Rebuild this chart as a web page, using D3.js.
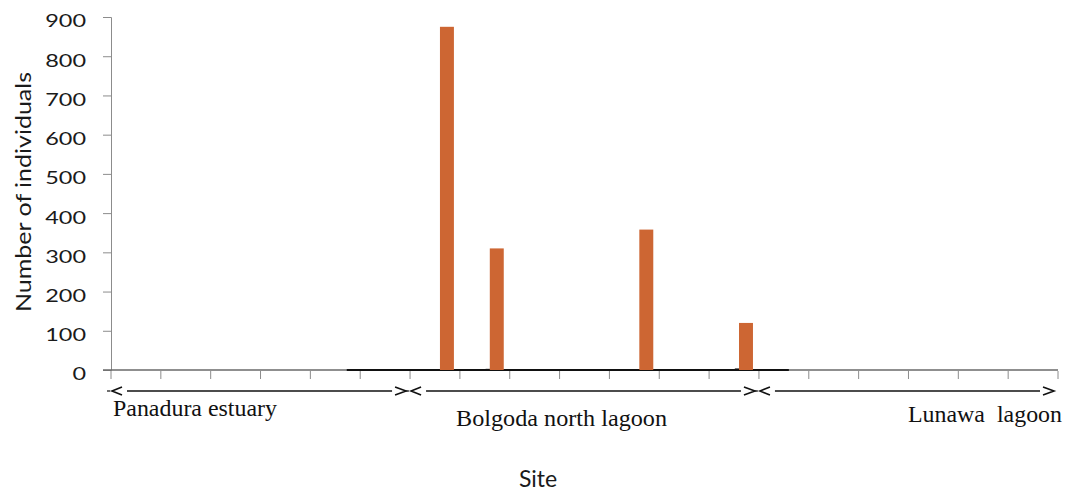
<!DOCTYPE html>
<html>
<head>
<meta charset="utf-8">
<script src="https://cdn.jsdelivr.net/npm/d3@7"></script>
<style>
  html, body { margin: 0; padding: 0; background: #fff; }
  svg { display: block; }
</style>
</head>
<body>
<svg id="chart" width="1067" height="493"></svg>
<script>
// ---- data ----
const sites = ["S1","S2","S3","S4","S5","S6","S7","S8","S9","S10","S11","S12","S13","S14","S15","S16","S17","S18","S19"];
const individuals = [0,0,0,0,0,0,875,310,0,0,358,0,120,0,0,0,0,0,0];
const minorSeries = [0,0,0,0,0,0,0,3,0,0,0,0,4,0,0,0,0,0,0];
const yTicks = [0,100,200,300,400,500,600,700,800,900];
const regionNames = ["Panadura estuary","Bolgoda north lagoon","Lunawa  lagoon"];
const regionStart = [0,6,13];
const regionEnd = [5,12,18];
const yTitle = "Number of individuals";
const xTitle = "Site";

// ---- layout ----
const svg = d3.select("#chart");
const plotLeft = 111, plotRight = 1058, plotTop = 17, plotBottom = 370;

const x = d3.scaleBand().domain(sites).range([plotLeft, plotRight]).padding(0);
const inner = d3.scaleBand().domain(["minor","main"]).range([x.bandwidth()*0.32, x.bandwidth()*0.88]).padding(0);
const y = d3.scaleLinear().domain([0, 900]).range([plotBottom, plotTop]);

// y axis
const yAxis = svg.append("g")
  .attr("transform", `translate(${plotLeft},0)`)
  .call(d3.axisLeft(y).tickValues(yTicks).tickSize(8).tickPadding(17).tickFormat(d3.format("d")));
yAxis.select(".domain").attr("stroke", "#8c8c8c").attr("stroke-width", 1);
yAxis.selectAll(".tick line").attr("stroke", "#8c8c8c");
yAxis.selectAll(".tick text")
  .attr("font-family", "Lato, 'Open Sans', sans-serif")
  .attr("font-size", 18)
  .attr("fill", "#1a1a1a")
  .attr("dy", "0.55em")
  .attr("textLength", d => String(d).length * 13.6)
  .attr("lengthAdjust", "spacingAndGlyphs");

// x axis: gray baseline + ticks at band boundaries
const xg = svg.append("g");
xg.append("line")
  .attr("x1", plotLeft - 8).attr("x2", plotRight)
  .attr("y1", y(0)).attr("y2", y(0))
  .attr("stroke", "#6a6a6a").attr("stroke-width", 1.5);
xg.append("line")
  .attr("x1", x(sites[4]) + x.bandwidth()*0.73)
  .attr("x2", x(sites[13]) + x.bandwidth()*0.6)
  .attr("y1", y(0)).attr("y2", y(0))
  .attr("stroke", "#111").attr("stroke-width", 2);
const tickPos = sites.map(s => x(s)).concat([x.range()[1]]);
xg.selectAll("line.xtick").data(tickPos).enter().append("line")
  .attr("class", "xtick")
  .attr("x1", d => d).attr("x2", d => d)
  .attr("y1", y(0) + 1).attr("y2", y(0) + 9)
  .attr("stroke", "#8c8c8c").attr("stroke-width", 1);

// minor (near-zero) series, drawn first
svg.append("g").selectAll("rect.minor")
  .data(sites.map((s, i) => ({s, v: minorSeries[i]})).filter(d => d.v > 0))
  .enter().append("rect")
  .attr("class", "minor")
  .attr("x", d => x(d.s) + inner("main") - inner.bandwidth() * 0.3)
  .attr("width", inner.bandwidth())
  .attr("y", d => y(d.v))
  .attr("height", d => y(0) - y(d.v))
  .attr("fill", "#111");

// main bars
svg.append("g").selectAll("rect.main")
  .data(sites.map((s, i) => ({s, v: individuals[i]})).filter(d => d.v > 0))
  .enter().append("rect")
  .attr("class", "main")
  .attr("x", d => x(d.s) + inner("main"))
  .attr("width", inner.bandwidth())
  .attr("y", d => y(d.v))
  .attr("height", d => y(0) - y(d.v))
  .attr("fill", "#CD6633");

// region arrows
const ay = 391;
const rg = svg.append("g").attr("stroke", "#111").attr("fill", "none");
regionNames.forEach((name, i) => {
  const x0 = x(sites[regionStart[i]]);
  const x1 = x(sites[regionEnd[i]]) + x.bandwidth();
  rg.append("line").attr("x1", x0 - 4).attr("x2", x0 - 1).attr("y1", ay).attr("y2", ay).attr("stroke-width", 1.2);
  rg.append("polyline")
    .attr("points", `${x0 + 11},${ay - 4} ${x0 + 1},${ay} ${x0 + 11},${ay + 4}`)
    .attr("stroke-width", 1.6);
  rg.append("line").attr("x1", x0 + 16).attr("x2", x1 - 18).attr("y1", ay).attr("y2", ay).attr("stroke-width", 1.3);
  rg.append("polyline")
    .attr("points", `${x1 - 15},${ay - 4} ${x1 - 4},${ay} ${x1 - 15},${ay + 4}`)
    .attr("stroke-width", 1.6);
});

// region labels
const lab = svg.append("g")
  .attr("font-family", "'Liberation Serif', 'Times New Roman', serif")
  .attr("font-size", 23)
  .attr("fill", "#111");
const r0 = x(sites[regionStart[0]]);
lab.append("text").attr("x", r0 + 2).attr("y", 416).attr("text-anchor", "start")
  .attr("textLength", 164).attr("lengthAdjust", "spacingAndGlyphs").text(regionNames[0]);
const r1 = x(sites[regionStart[1]]);
lab.append("text").attr("x", r1 + 46).attr("y", 426).attr("text-anchor", "start")
  .attr("textLength", 211).attr("lengthAdjust", "spacingAndGlyphs").text(regionNames[1]);
const r2 = x(sites[regionEnd[2]]) + x.bandwidth();
lab.append("text").attr("x", r2 - 150).attr("y", 422).attr("text-anchor", "start")
  .attr("textLength", 154).attr("lengthAdjust", "spacingAndGlyphs")
  .style("white-space", "pre").text(regionNames[2]);

// axis titles
svg.append("text")
  .attr("transform", `translate(31, 192) rotate(-90)`)
  .attr("text-anchor", "middle")
  .attr("font-family", "Lato, 'Open Sans', sans-serif")
  .attr("font-size", 21)
  .attr("fill", "#1a1a1a")
  .attr("textLength", 240).attr("lengthAdjust", "spacingAndGlyphs")
  .text(yTitle);

svg.append("text")
  .attr("x", 538).attr("y", 487)
  .attr("text-anchor", "middle")
  .attr("font-family", "Lato, 'Open Sans', sans-serif")
  .attr("font-size", 23)
  .attr("fill", "#1a1a1a")
  .text(xTitle);
</script>
</body>
</html>
